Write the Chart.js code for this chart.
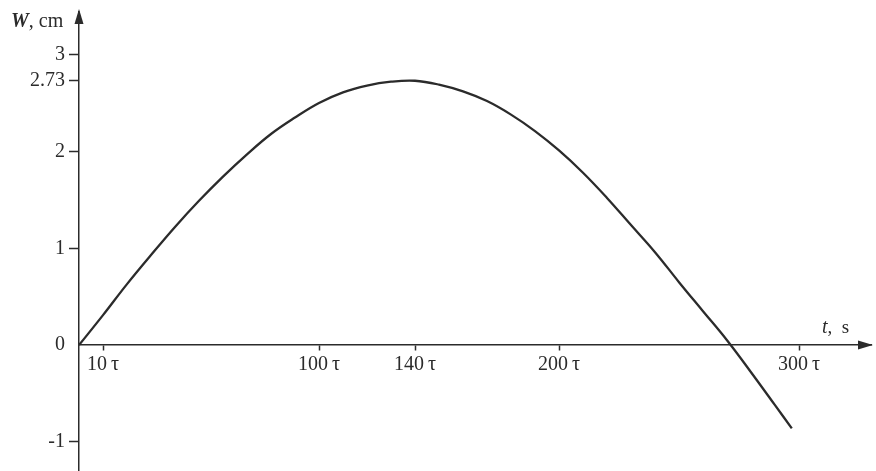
<!DOCTYPE html>
<html>
<head>
<meta charset="utf-8">
<script src="https://cdn.jsdelivr.net/npm/chart.js@4.4.1/dist/chart.umd.min.js"></script>
<style>
  body { margin: 0; background: #fff; }
  canvas { display: block; }
</style>
</head>
<body>
<canvas id="c" width="876" height="471"></canvas>
<script>
// time in units of tau, deflection W in cm
const tValues = [0, 10, 20, 30, 40, 50, 60, 70, 80, 90, 100, 110, 120, 130, 140, 150,
  160, 170, 180, 190, 200, 210, 220, 230, 240, 250, 260, 270, 280, 290, 297];
const wValues = [0, 0.31, 0.63, 0.93, 1.22, 1.49, 1.74, 1.97, 2.18, 2.35, 2.50, 2.61, 2.68, 2.72, 2.73, 2.69,
  2.62, 2.52, 2.38, 2.21, 2.01, 1.78, 1.52, 1.24, 0.96, 0.65, 0.35, 0.05, -0.28, -0.62, -0.86];

const xTicks = [10, 100, 140, 200, 300];
const yTicks = [-1, 0, 1, 2, 2.73, 3];

const ink = '#2b2b2b';
const serif = '"Liberation Serif", "DejaVu Serif", serif';

const points = tValues.map((t, i) => ({ x: t, y: wValues[i] }));

// arrowheads and axis names
const axisDecor = {
  id: 'axisDecor',
  afterDraw(chart) {
    const { ctx, chartArea, scales } = chart;
    const x0 = scales.x.getPixelForValue(0);
    const y0 = scales.y.getPixelForValue(0);
    ctx.save();
    ctx.fillStyle = ink;
    ctx.beginPath();
    ctx.moveTo(x0, chartArea.top - 3);
    ctx.lineTo(x0 - 4.5, chartArea.top + 12);
    ctx.lineTo(x0 + 4.5, chartArea.top + 12);
    ctx.closePath();
    ctx.fill();
    ctx.beginPath();
    ctx.moveTo(chartArea.right + 2, y0);
    ctx.lineTo(chartArea.right - 13, y0 - 4.5);
    ctx.lineTo(chartArea.right - 13, y0 + 4.5);
    ctx.closePath();
    ctx.fill();

    ctx.textBaseline = 'alphabetic';
    ctx.textAlign = 'left';
    ctx.font = 'bold italic 20px ' + serif;
    ctx.fillText('W', 11, 27);
    let w = ctx.measureText('W').width;
    ctx.font = '20px ' + serif;
    ctx.fillText(', cm', 11 + w, 27);

    ctx.font = 'italic 20px ' + serif;
    ctx.fillText('t', 822, 333);
    w = ctx.measureText('t').width;
    ctx.font = '19px ' + serif;
    ctx.fillText(',  s', 822 + w, 333);
    ctx.restore();
  }
};

new Chart(document.getElementById('c'), {
  type: 'line',
  data: {
    datasets: [{
      data: points,
      borderColor: ink,
      borderWidth: 2.3,
      pointRadius: 0,
      fill: false,
      tension: 0.4
    }]
  },
  options: {
    responsive: false,
    animation: false,
    layout: { padding: { left: 0, right: 5, top: 12, bottom: 0 } },
    plugins: { legend: { display: false }, tooltip: { enabled: false } },
    scales: {
      x: {
        type: 'linear',
        position: { y: 0 },
        min: 0,
        max: 330,
        afterBuildTicks: (scale) => { scale.ticks = xTicks.map(v => ({ value: v })); },
        afterFit: (scale) => { scale.paddingLeft = 0; scale.paddingRight = 0; },
        ticks: {
          color: ink,
          font: { family: serif, size: 20 },
          padding: 3,
          maxRotation: 0,
          autoSkip: false,
          callback: (v) => v + '\u2009τ'
        },
        grid: { drawOnChartArea: false, color: ink, tickLength: 5, tickWidth: 1.5 },
        border: { display: true, color: ink, width: 1.5 }
      },
      y: {
        type: 'linear',
        position: 'left',
        min: -1.30,
        max: 3.44,
        afterBuildTicks: (scale) => { scale.ticks = yTicks.map(v => ({ value: v })); },
        afterFit: (scale) => { scale.width = 79; scale.paddingTop = 0; scale.paddingBottom = 0; },
        ticks: {
          color: ink,
          font: { family: serif, size: 20 },
          padding: 4,
          autoSkip: false,
          callback: (v) => String(v)
        },
        grid: {
          drawOnChartArea: false,
          color: (c) => (c.tick && c.tick.value === 0 ? 'rgba(0,0,0,0)' : ink),
          tickLength: 10,
          tickWidth: 1.5
        },
        border: { display: true, color: ink, width: 1.5 }
      }
    }
  },
  plugins: [axisDecor]
});
</script>
</body>
</html>
